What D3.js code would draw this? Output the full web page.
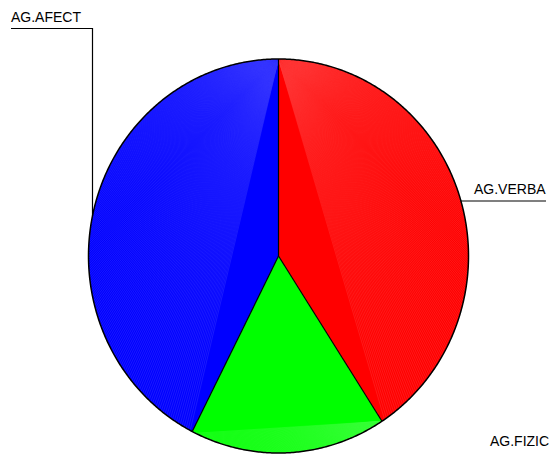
<!DOCTYPE html>
<html>
<head>
<meta charset="utf-8">
<script src="https://cdn.jsdelivr.net/npm/d3@7"></script>
<style>
  body { margin: 0; background: #fff; }
  svg { display: block; font-family: "Liberation Sans", Arial, sans-serif; }
</style>
</head>
<body>
<div id="chart"></div>
<script>
// data
var categories = ['AG.VERBA', 'AG.FIZIC', 'AG.AFECT'];
var values = [49, 20, 51];

var colors = ['#ff0000', '#00ff00', '#0000ff'];

var W = 550, H = 454;
var cx = 278.5, cy = 256, rx = 190, ry = 197;

var svg = d3.select('#chart').append('svg')
    .attr('width', W)
    .attr('height', H);

// unit circle -> ellipse on screen
var x = d3.scaleLinear().domain([-1, 1]).range([cx - rx, cx + rx]);
var y = d3.scaleLinear().domain([-1, 1]).range([cy - ry, cy + ry]);

function pt(a) { return [x(Math.sin(a)), y(-Math.cos(a))]; }

function arcPoints(a0, a1) {
    var n = Math.max(2, Math.ceil((a1 - a0) / (Math.PI / 360)));
    return d3.range(n + 1).map(function(i) { return pt(a0 + (a1 - a0) * i / n); });
}

var pie = d3.pie().sort(null).value(function(d) { return d; });
var arcs = pie(values);

var line = d3.line();
var g = svg.append('g');
var defs = svg.append('defs');

arcs.forEach(function(d, i) {
    var pts = [[x(0), y(0)]].concat(arcPoints(d.startAngle, d.endAngle));
    var path = line(pts) + 'Z';

    defs.append('clipPath').attr('id', 'clip' + i)
      .append('path').attr('d', path);

    g.append('path')
        .attr('class', 'slice')
        .attr('d', path)
        .attr('fill', colors[i]);

    // fan of seams from the higher boundary point of the slice
    var p0 = pt(d.startAngle), p1 = pt(d.endAngle);
    var origin = p0[1] <= p1[1] ? p0 : p1;
    var tint = d3.interpolateRgb(colors[i], '#fff')(0.22);
    var fan = g.append('g').attr('clip-path', 'url(#clip' + i + ')');
    var step = Math.PI / 260;
    var n = Math.floor((d.endAngle - d.startAngle) / step);
    fan.selectAll('line')
        .data(d3.range(1, n))
        .enter().append('line')
        .attr('x1', origin[0]).attr('y1', origin[1])
        .attr('x2', function(k) { return pt(d.startAngle + k * step)[0]; })
        .attr('y2', function(k) { return pt(d.startAngle + k * step)[1]; })
        .attr('stroke', tint)
        .attr('stroke-width', 0.45);
});

// slice borders
arcs.forEach(function(d) {
    var p = pt(d.startAngle);
    g.append('line')
        .attr('x1', x(0)).attr('y1', y(0))
        .attr('x2', p[0]).attr('y2', p[1])
        .attr('stroke', '#000')
        .attr('stroke-width', 1.2);
});

// outline
g.append('path')
    .attr('d', line(arcPoints(0, 2 * Math.PI)) + 'Z')
    .attr('fill', 'none')
    .attr('stroke', '#000')
    .attr('stroke-width', 1.5);

// labels
var labels = svg.append('g')
    .attr('font-size', '14px')
    .attr('fill', '#000');

function edgeAtX(px, upper) {
    var u = (px - cx) / rx;
    var v = Math.sqrt(Math.max(0, 1 - u * u)) * ry;
    return upper ? cy - v : cy + v;
}

// AG.VERBA
labels.append('text').attr('x', 474).attr('y', 194).text(categories[0]);
svg.append('line')
    .attr('x1', 546).attr('y1', 201)
    .attr('x2', cx + rx * Math.sqrt(1 - Math.pow((201 - cy) / ry, 2))).attr('y2', 201)
    .attr('stroke', '#000').attr('stroke-width', 1.2);

// AG.FIZIC
labels.append('text').attr('x', 490).attr('y', 446).text(categories[1]);

// AG.AFECT
labels.append('text').attr('x', 11).attr('y', 22).text(categories[2]);
svg.append('path')
    .attr('d', line([[11, 28.5], [92.5, 28.5], [92.5, edgeAtX(92.5, true)]]))
    .attr('fill', 'none')
    .attr('stroke', '#000')
    .attr('stroke-width', 1.2);
</script>
</body>
</html>
